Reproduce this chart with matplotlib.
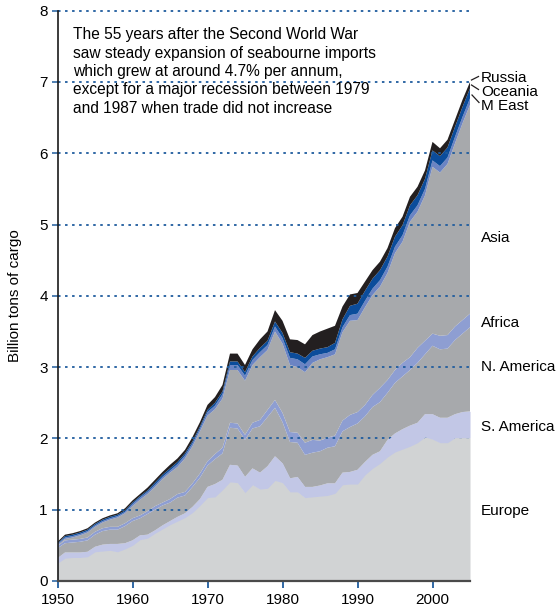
import numpy as np
import matplotlib
matplotlib.use("Agg")
import matplotlib.pyplot as plt

plt.rcParams['font.family'] = ['Liberation Sans', 'DejaVu Sans']

years = list(range(1950, 2006))

europe = [0.25, 0.32, 0.33, 0.33, 0.34, 0.41, 0.42, 0.43, 0.41, 0.45,
          0.50, 0.58, 0.60, 0.67, 0.73, 0.79, 0.84, 0.89, 0.96, 1.06,
          1.17, 1.18, 1.28, 1.39, 1.38, 1.24, 1.35, 1.29, 1.30, 1.41,
          1.38, 1.25, 1.25, 1.17, 1.18, 1.19, 1.20, 1.23, 1.35, 1.36,
          1.36, 1.49, 1.58, 1.65, 1.74, 1.81, 1.85, 1.89, 1.94, 2.02,
          1.99, 1.94, 1.94, 2.01, 2.01, 2.01]
s_america = [0.07, 0.08, 0.07, 0.07, 0.07, 0.07, 0.09, 0.09, 0.11, 0.08,
             0.07, 0.06, 0.05, 0.04, 0.05, 0.05, 0.06, 0.06, 0.08, 0.09,
             0.15, 0.18, 0.14, 0.24, 0.24, 0.22, 0.23, 0.23, 0.31, 0.34,
             0.27, 0.19, 0.21, 0.15, 0.14, 0.15, 0.17, 0.14, 0.17, 0.17,
             0.20, 0.18, 0.19, 0.17, 0.24, 0.26, 0.28, 0.29, 0.28, 0.32,
             0.35, 0.35, 0.35, 0.33, 0.36, 0.37]
n_america = [0.14, 0.13, 0.14, 0.15, 0.16, 0.17, 0.19, 0.20, 0.20, 0.24,
             0.27, 0.24, 0.29, 0.29, 0.28, 0.26, 0.27, 0.25, 0.28, 0.30,
             0.30, 0.35, 0.37, 0.52, 0.52, 0.52, 0.56, 0.65, 0.69, 0.68,
             0.58, 0.51, 0.48, 0.45, 0.48, 0.48, 0.50, 0.52, 0.58, 0.63,
             0.65, 0.64, 0.67, 0.69, 0.66, 0.71, 0.74, 0.78, 0.84, 0.84,
             0.96, 0.96, 0.97, 1.04, 1.10, 1.18]
africa = [0.03, 0.04, 0.04, 0.04, 0.04, 0.04, 0.04, 0.04, 0.04, 0.04,
          0.04, 0.04, 0.04, 0.05, 0.04, 0.05, 0.05, 0.05, 0.05, 0.06,
          0.06, 0.07, 0.08, 0.07, 0.07, 0.07, 0.08, 0.09, 0.10, 0.11,
          0.13, 0.14, 0.14, 0.17, 0.18, 0.15, 0.14, 0.15, 0.15, 0.17,
          0.16, 0.16, 0.17, 0.20, 0.18, 0.18, 0.19, 0.18, 0.21, 0.19,
          0.17, 0.19, 0.19, 0.19, 0.19, 0.19]
asia = [0.01, 0.02, 0.03, 0.05, 0.07, 0.07, 0.08, 0.10, 0.13, 0.14,
        0.17, 0.22, 0.24, 0.27, 0.33, 0.37, 0.38, 0.47, 0.52, 0.59,
        0.64, 0.63, 0.69, 0.74, 0.75, 0.76, 0.81, 0.88, 0.84, 0.96,
        0.97, 0.94, 0.92, 0.99, 1.08, 1.14, 1.13, 1.14, 1.24, 1.32,
        1.29, 1.37, 1.40, 1.42, 1.50, 1.64, 1.70, 1.90, 1.91, 2.04,
        2.34, 2.29, 2.40, 2.57, 2.76, 2.93]
m_east = [0.02, 0.02, 0.02, 0.02, 0.02, 0.02, 0.02, 0.02, 0.02, 0.02,
          0.03, 0.03, 0.03, 0.03, 0.03, 0.03, 0.04, 0.04, 0.04, 0.04,
          0.05, 0.05, 0.06, 0.07, 0.07, 0.07, 0.07, 0.07, 0.07, 0.07,
          0.08, 0.10, 0.11, 0.11, 0.09, 0.07, 0.06, 0.07, 0.07, 0.08,
          0.09, 0.09, 0.09, 0.09, 0.09, 0.09, 0.09, 0.09, 0.09, 0.09,
          0.09, 0.09, 0.09, 0.09, 0.09, 0.09]
oceania = [0.01, 0.02, 0.02, 0.02, 0.02, 0.02, 0.02, 0.02, 0.02, 0.02,
           0.02, 0.02, 0.02, 0.03, 0.03, 0.03, 0.03, 0.03, 0.03, 0.03,
           0.03, 0.04, 0.04, 0.05, 0.05, 0.05, 0.05, 0.06, 0.06, 0.07,
           0.07, 0.08, 0.08, 0.09, 0.08, 0.08, 0.08, 0.09, 0.11, 0.13,
           0.14, 0.14, 0.14, 0.14, 0.14, 0.14, 0.14, 0.14, 0.14, 0.14,
           0.14, 0.14, 0.14, 0.14, 0.14, 0.14]
russia = [0.02, 0.02, 0.02, 0.02, 0.02, 0.02, 0.02, 0.02, 0.02, 0.03,
          0.03, 0.03, 0.04, 0.04, 0.04, 0.05, 0.05, 0.05, 0.06, 0.06,
          0.07, 0.08, 0.09, 0.11, 0.11, 0.10, 0.10, 0.12, 0.13, 0.16,
          0.17, 0.18, 0.19, 0.19, 0.22, 0.24, 0.26, 0.24, 0.18, 0.16,
          0.15, 0.13, 0.12, 0.12, 0.12, 0.12, 0.12, 0.12, 0.12, 0.12,
          0.12, 0.11, 0.11, 0.10, 0.10, 0.09]

regions = ["Europe", "S. America", "N. America", "Africa", "Asia",
           "M East", "Oceania", "Russia"]
series = [europe, s_america, n_america, africa, asia, m_east, oceania, russia]
colors = ["#d1d3d4", "#c2c7e6", "#a7a9ac", "#8e9ed2", "#a7a9ac",
          "#6b84c3", "#0b4c9b", "#231f20"]

grid_levels = [1, 2, 3, 4, 5, 6, 7, 8]
yticks = [0, 1, 2, 3, 4, 5, 6, 7, 8]
xticks = [1950, 1960, 1970, 1980, 1990, 2000]

blue = "#1f5c9e"

W, H = 559, 611
fig = plt.figure(figsize=(W / 100, H / 100), dpi=100)
ax = fig.add_axes([57.5 / W, 1 - 581 / H, 412.5 / W, 570.3 / H])

ax.stackplot(years, *series, colors=colors, linewidth=0, zorder=1)

ax.hlines(grid_levels, years[0], years[-1], colors=blue, linewidth=1.3,
          linestyles=(0, (1.4, 2.5)), zorder=2, clip_on=False)

# Europe and S. America drawn over the grid lines
e = np.array(europe)
s = e + np.array(s_america)
ax.fill_between(years, 0, e, color=colors[0], linewidth=0, zorder=3)
ax.fill_between(years, e, s, color=colors[1], linewidth=0, zorder=3)

ax.set_xlim(1950, 2005)
ax.set_ylim(0, 8)
ax.set_xticks(xticks)
ax.set_yticks(yticks)
ax.tick_params(axis='y', direction='out', length=4, width=1.1, color=blue,
               labelsize=11, pad=3)
ax.tick_params(axis='x', direction='out', length=5, width=1.3, color=blue,
               labelsize=11, pad=4)
for sp in ['top', 'right']:
    ax.spines[sp].set_visible(False)
ax.spines['left'].set_linewidth(1.2)
ax.spines['left'].set_color('#1a1a1a')
ax.spines['bottom'].set_linewidth(1.6)
ax.spines['bottom'].set_color('#4a4a4a')
ax.spines['left'].set_zorder(5)
ax.spines['bottom'].set_zorder(5)

fig.text(15 / W, 1 - 296 / H, "Billion tons of cargo", rotation=90,
         ha='center', va='center', fontsize=11)

note = ["The 55 years after the Second World War",
        "saw steady expansion of seabourne imports",
        "which grew at around 4.7% per annum,",
        "except for a major recession between 1979",
        "and 1987 when trade did not increase"]
baselines = [39.3, 57.6, 76.0, 94.4, 112.7]
for line, b in zip(note, baselines):
    fig.text(73 / W, 1 - b / H, line, ha='left', va='baseline', fontsize=11.2)

label_base = {"Russia": 81.7, "Oceania": 96.0, "M East": 110.0,
              "Asia": 241.7, "Africa": 326.7, "N. America": 370.7,
              "S. America": 430.7, "Europe": 515.0}
for name in regions:
    fig.text(481 / W, 1 - label_base[name] / H, name, ha='left',
             va='baseline', fontsize=11)

leaders = [((471.5, 80.0), (478.5, 76.5)),
           ((471.5, 85.0), (478.5, 89.5)),
           ((472.0, 95.0), (479.0, 102.5))]
for (x0, y0), (x1, y1) in leaders:
    fig.add_artist(plt.Line2D([x0 / W, x1 / W], [1 - y0 / H, 1 - y1 / H],
                              color='#231f20', linewidth=0.9))

fig.savefig("out.png", dpi=100)
